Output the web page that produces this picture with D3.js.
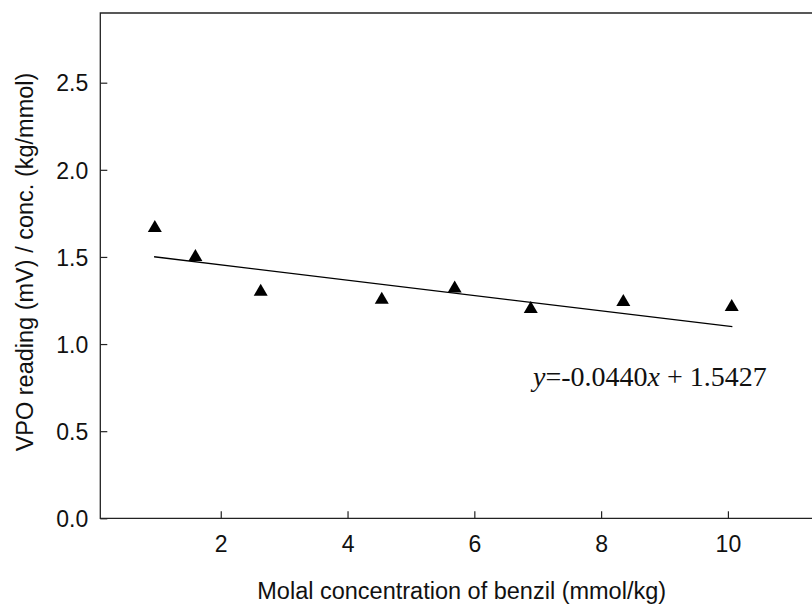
<!DOCTYPE html>
<html>
<head>
<meta charset="utf-8">
<script src="https://cdn.jsdelivr.net/npm/d3@7"></script>
<style>
  html, body { margin: 0; padding: 0; background: #fff; }
  svg { display: block; }
</style>
</head>
<body>
<svg id="chart" width="812" height="606"></svg>
<script>
// Molal concentration of benzil (mmol/kg)
const concentration = [0.96, 1.60, 2.63, 4.54, 5.69, 6.89, 8.35, 10.06];
// VPO reading divided by concentration (kg/mmol)
const vpoRatio = [1.678, 1.511, 1.311, 1.266, 1.330, 1.213, 1.253, 1.224];

// Linear fit reported on the chart
const fitSlope = -0.0440;
const fitIntercept = 1.5427;
const fitRange = [0.948, 10.07];

const xTicks = [2, 4, 6, 8, 10];
const yTicks = [0.0, 0.5, 1.0, 1.5, 2.0, 2.5];

const svg = d3.select("#chart");

const x = d3.scaleLinear().domain([0.1, 11.5]).range([100.3, 823]);
const y = d3.scaleLinear().domain([0, 2.9]).range([518.3, 13]);

const sans = "'Liberation Sans', Arial, sans-serif";
const serif = "'Liberation Serif', 'Times New Roman', serif";

// Axes with inward ticks
const xAxis = d3.axisBottom(x).tickValues(xTicks).tickSize(-7).tickPadding(0).tickFormat(d3.format("d"));
const yAxis = d3.axisLeft(y).tickValues(yTicks).tickSize(-7).tickPadding(0).tickFormat(d3.format(".1f"));

const gx = svg.append("g").attr("transform", `translate(0,${y(0)})`).call(xAxis);
const gy = svg.append("g").attr("transform", `translate(${x(0.1)},0)`).call(yAxis);

[gx, gy].forEach(g => {
  g.select(".domain").remove();
  g.selectAll(".tick line").attr("stroke", "#222").attr("stroke-width", 1.2);
  g.selectAll(".tick text").attr("fill", "#111").style("font-family", sans).style("font-size", "23px");
});
gx.selectAll(".tick text").attr("y", 0).attr("dy", "1.48em");
gy.selectAll(".tick text").attr("x", -12).attr("dy", "0.36em");

// Plot frame (left, top, bottom); the right side runs past the page edge
svg.append("path")
  .attr("d", `M${x(11.5)},${y(0)}H${x(0.1)}V${y(2.9)}H${x(11.5)}`)
  .attr("fill", "none")
  .attr("stroke", "#222")
  .attr("stroke-width", 1.3);

// Regression line
const fitLine = d3.line().x(d => x(d)).y(d => y(fitSlope * d + fitIntercept));
svg.append("path")
  .datum(fitRange)
  .attr("d", fitLine)
  .attr("fill", "none")
  .attr("stroke", "#000")
  .attr("stroke-width", 1.3);

// Triangle markers
const tri = "M0,-6L7,6L-7,6Z";
svg.append("g").selectAll("path")
  .data(concentration.map((c, i) => [c, vpoRatio[i]]))
  .join("path")
  .attr("d", tri)
  .attr("transform", d => `translate(${x(d[0])},${y(d[1])})`)
  .attr("fill", "#000");

// Fit equation (plain hyphen for the sign)
const fmt = v => d3.format(".4f")(v).replace("\u2212", "-");
const eq = svg.append("text")
  .attr("x", 533)
  .attr("y", 386)
  .style("font-family", serif)
  .style("font-size", "28px")
  .attr("fill", "#111");
eq.append("tspan").style("font-style", "italic").text("y");
eq.append("tspan").text("=" + fmt(fitSlope));
eq.append("tspan").style("font-style", "italic").text("x");
eq.append("tspan").text(" + " + fmt(fitIntercept));

// Axis titles
svg.append("text")
  .attr("x", 461.7)
  .attr("y", 599.3)
  .attr("text-anchor", "middle")
  .style("font-family", sans)
  .style("font-size", "23.5px")
  .attr("fill", "#111")
  .text("Molal concentration of benzil (mmol/kg)");

svg.append("text")
  .attr("transform", "translate(33,262) rotate(-90)")
  .attr("text-anchor", "middle")
  .style("font-family", sans)
  .style("font-size", "23.5px")
  .attr("fill", "#111")
  .text("VPO reading (mV) / conc. (kg/mmol)");
</script>
</body>
</html>
